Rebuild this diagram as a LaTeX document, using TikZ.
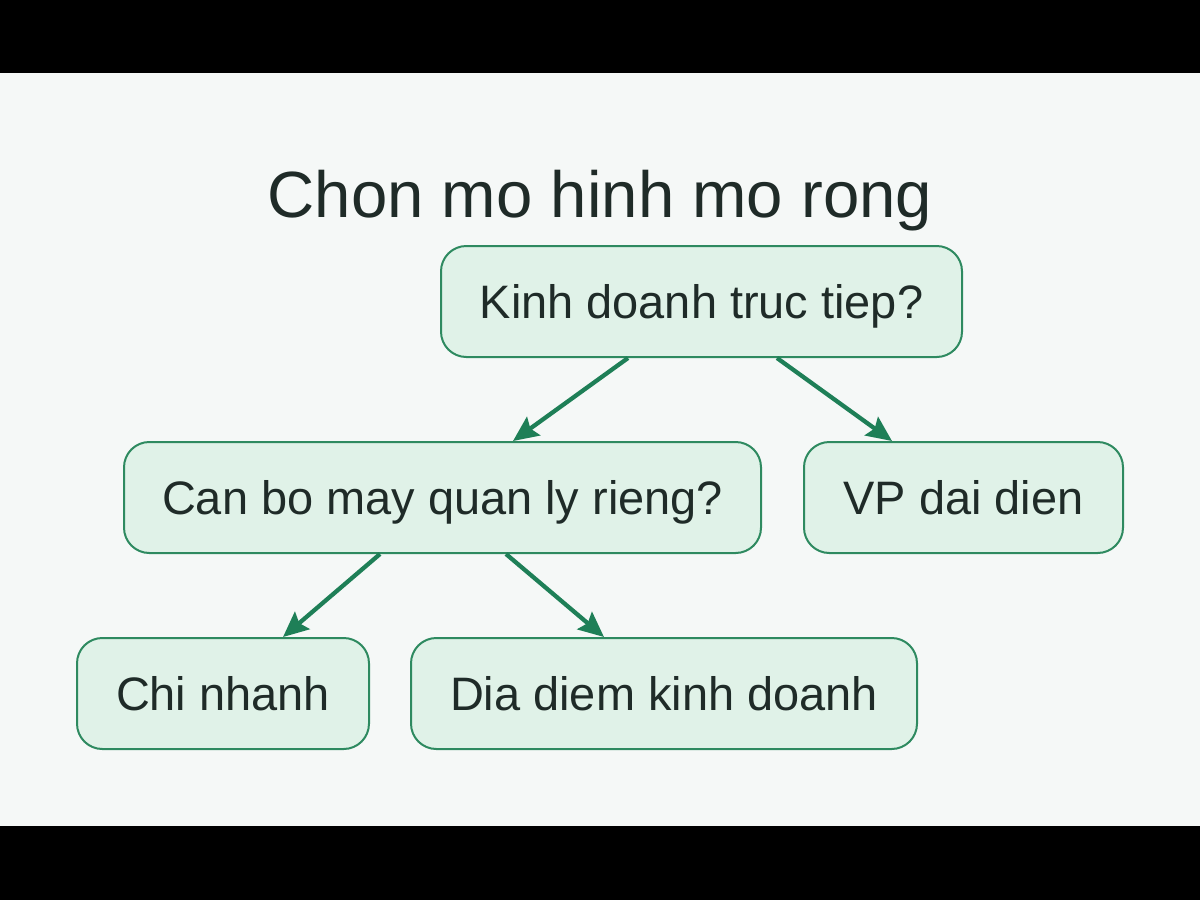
\documentclass[tikz,border=0pt]{standalone}
\usepackage{fontspec}
\setmainfont{Liberation Sans}
\usetikzlibrary{arrows.meta,calc}
\definecolor{bgc}{HTML}{F5F8F7}
\definecolor{boxfill}{HTML}{E0F2E8}
\definecolor{boxdraw}{HTML}{2E8A60}
\definecolor{arrowc}{HTML}{1E7F57}
\definecolor{textc}{HTML}{1F2B28}
\tikzset{
  box/.style={draw=boxdraw, fill=boxfill, line width=1.5pt, rounded corners=19pt,
    inner sep=0pt, text=textc, font=\fontsize{35.2pt}{40pt}\selectfont,
    text height=25.2pt, text depth=0pt},
  conn/.style={draw=arrowc, line width=3.2pt, -{Stealth[length=19pt,width=17pt,inset=3pt]}},
}
\begin{document}
\begin{tikzpicture}[x=0.75pt,y=-0.75pt]
\useasboundingbox (0,0) rectangle (1200,900);
\fill[black] (0,0) rectangle (1200,900);
\fill[bgc] (0,73) rectangle (1200,826);
\node[anchor=base, text=textc, font=\fontsize{49pt}{56pt}\selectfont] (title) at (600,217) {Chon mo hinh mo rong};
\node[box, minimum width=521*0.75pt, minimum height=111*0.75pt] (kinh) at (701.5,301.5) {Kinh doanh truc tiep?};
\node[box, minimum width=637*0.75pt, minimum height=111*0.75pt] (canbo) at (442.5,497.5) {Can bo may quan ly rieng?};
\node[box, minimum width=319*0.75pt, minimum height=111*0.75pt] (vp) at (963.5,497.5) {VP dai dien};
\node[box, minimum width=292*0.75pt, minimum height=111*0.75pt] (chi) at (223,693.5) {Chi nhanh};
\node[box, minimum width=506*0.75pt, minimum height=111*0.75pt] (dia) at (664,693.5) {Dia diem kinh doanh};
\draw[conn] ($(kinh.south)+(-73.5,0)$) -- ($(canbo.north)+(70.5,0)$);
\draw[conn] ($(kinh.south)+(75.5,0)$) -- ($(vp.north)+(-71.5,0)$);
\draw[conn] ($(canbo.south)+(-62.5,0)$) -- ($(chi.north)+(60,0)$);
\draw[conn] ($(canbo.south)+(63.5,0)$) -- ($(dia.north)+(-60,0)$);
\end{tikzpicture}
\end{document}
